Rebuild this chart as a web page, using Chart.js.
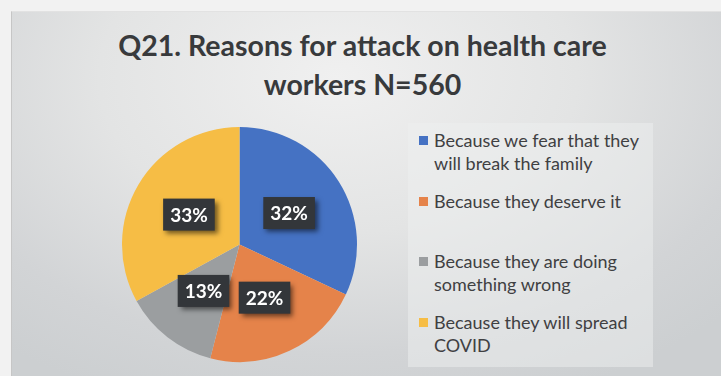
<!DOCTYPE html>
<html>
<head>
<meta charset="utf-8">
<script src="https://cdn.jsdelivr.net/npm/chart.js@4"></script>
<style>
  html, body { margin: 0; padding: 0; }
  body { width: 721px; height: 376px; background: #f2f2f2; position: relative; overflow: hidden; font-family: Lato, "Open Sans", sans-serif; }
  #panel {
    position: absolute; left: 11px; top: 11px; right: 0; bottom: 0;
    border-left: 1px solid #c6c6c6; border-top: 1px solid #e2e2e2;
    background: radial-gradient(ellipse 75% 95% at 46% 18%, #f0f0f0 0%, #e3e4e4 45%, #d2d4d6 80%, #cccfd1 100%);
  }
  #title {
    position: absolute; left: 0; width: 725px; top: 26px;
    text-align: center; color: #383a3c; font-weight: 700; font-size: 28.5px; line-height: 39px;
  }
  #legendBox {
    position: absolute; left: 408px; top: 123px; width: 245px; height: 244px;
    background: rgba(238,239,239,0.5);
  }
  #legend { position: absolute; left: 419px; top: 129px; }
  .item { position: relative; height: 60.7px; }
  .swatch { position: absolute; left: 0; top: 7px; width: 9px; height: 9px; }
  .txt { position: absolute; left: 15px; top: 0; width: 232px; font-size: 18px; line-height: 23px; color: #3f4042; }
  #pieWrap { position: absolute; left: 112px; top: 117px; width: 255px; height: 255px; }
</style>
</head>
<body>
<div id="panel"></div>
<div id="title">Q21. Reasons for attack on health care<br>workers N=560</div>
<div id="legendBox"></div>
<div id="legend"></div>
<div id="pieWrap"><canvas id="pie"></canvas></div>
<script>
// Survey answers and their share of respondents (%)
const categories = [
  "Because we fear that they will break the family",
  "Because they deserve it",
  "Because they are doing something wrong",
  "Because they will spread COVID"
];
const shares = [32, 22, 13, 33];
const sliceColors = ["#4572c3", "#e5834a", "#9b9ea0", "#f6bd45"];

// Dark value tags centred on each slice
const valueTags = {
  id: 'valueTags',
  afterDatasetsDraw(chart) {
    const ctx = chart.ctx;
    const meta = chart.getDatasetMeta(0);
    ctx.save();
    ctx.font = 'bold 19px Lato, "Open Sans", sans-serif';
    ctx.textAlign = 'center';
    ctx.textBaseline = 'middle';
    meta.data.forEach((arc, i) => {
      const p = arc.tooltipPosition();
      const text = chart.data.datasets[0].data[i] + '%';
      const w = ctx.measureText(text).width + 14;
      const h = 32;
      ctx.save();
      ctx.shadowColor = 'rgba(0,0,0,0.55)';
      ctx.shadowBlur = 5;
      ctx.shadowOffsetX = 3;
      ctx.shadowOffsetY = 3;
      ctx.fillStyle = '#33363a';
      ctx.fillRect(p.x - w / 2, p.y - h / 2, w, h);
      ctx.restore();
      ctx.fillStyle = '#ffffff';
      ctx.fillText(text, p.x, p.y + 1);
    });
    ctx.restore();
  }
};

const chart = new Chart(document.getElementById('pie'), {
  type: 'pie',
  data: {
    labels: categories,
    datasets: [{
      data: shares,
      backgroundColor: sliceColors,
      borderWidth: 0
    }]
  },
  options: {
    responsive: true,
    maintainAspectRatio: false,
    animation: false,
    layout: { padding: 10 },
    plugins: {
      legend: { display: false },
      title: { display: false },
      tooltip: { enabled: false }
    }
  },
  plugins: [valueTags]
});

// Legend list built from the chart's own labels and colours
const legendEl = document.getElementById('legend');
chart.data.labels.forEach((label, i) => {
  const item = document.createElement('div');
  item.className = 'item';
  const sw = document.createElement('div');
  sw.className = 'swatch';
  sw.style.background = chart.data.datasets[0].backgroundColor[i];
  const tx = document.createElement('div');
  tx.className = 'txt';
  tx.textContent = label;
  item.appendChild(sw);
  item.appendChild(tx);
  legendEl.appendChild(item);
});
</script>
</body>
</html>
